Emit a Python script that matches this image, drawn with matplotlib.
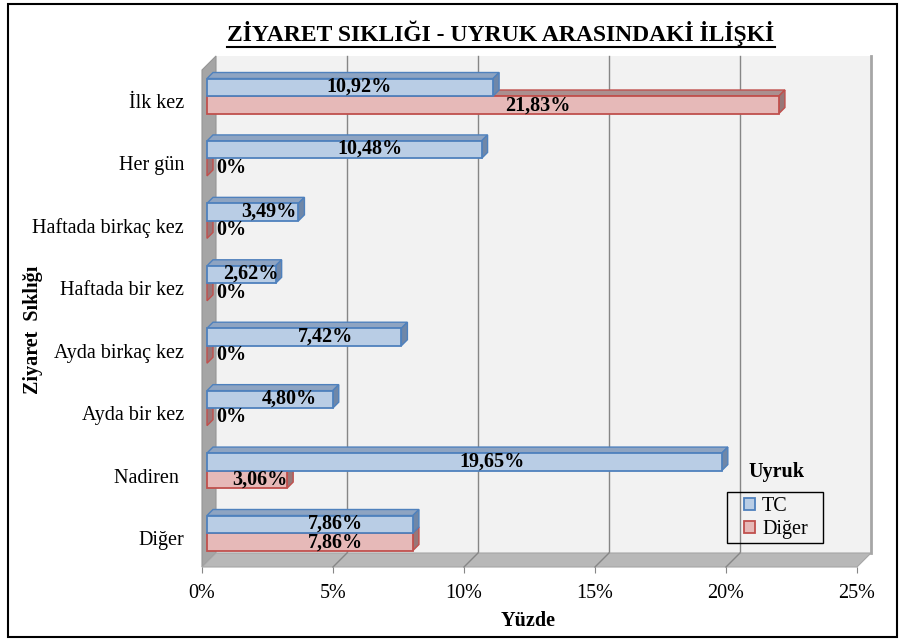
import matplotlib
matplotlib.use('Agg')
import matplotlib.pyplot as plt
from matplotlib.patches import Polygon, Patch, Rectangle
from matplotlib.lines import Line2D

plt.rcParams['font.family'] = 'Liberation Serif'

# =============================================================================
# Data
# =============================================================================

categories = ['İlk kez', 'Her gün', 'Haftada birkaç kez', 'Haftada bir kez',
              'Ayda birkaç kez', 'Ayda bir kez', 'Nadiren ', 'Diğer']
tc_values = [10.92, 10.48, 3.49, 2.62, 7.42, 4.80, 19.65, 7.86]
diger_values = [21.83, 0, 0, 0, 0, 0, 3.06, 7.86]
series_names = ['TC', 'Diğer']

# label centres (percent axis) as placed on the chart
tc_label_x = [6.0, 6.4, 2.55, 1.85, 4.7, 3.35, 11.05, 5.1]
diger_label_x = [12.8, 1.1, 1.1, 1.1, 1.1, 1.1, 2.2, 5.1]

xticks = [0, 5, 10, 15, 20, 25]

# =============================================================================
# Styles
# =============================================================================

tc_face, tc_edge, tc_top, tc_side = '#b9cde5', '#4f81bd', '#8ea4c2', '#6f87a8'
dg_face, dg_edge, dg_top, dg_side = '#e6b9b8', '#c0504d', '#ab8f8f', '#987778'
wall_color = '#f2f2f2'
side_wall = '#a5a5a5'
floor_color = '#b8b8b8'
grid_color = '#868686'

W, H = 910, 641
fig = plt.figure(figsize=(W / 100, H / 100), dpi=100)

ax_l, ax_r, ax_b, ax_t = 202, 857, 567, 70
ax = fig.add_axes([ax_l / W, 1 - ax_b / H, (ax_r - ax_l) / W, (ax_b - ax_t) / H])
ylo, yhi = -0.4645, 7.4966
ax.set_xlim(0, 25)
ax.set_ylim(ylo, yhi)

# pixel -> data units
ux = 25 / (ax_r - ax_l)
uy = (yhi - ylo) / (ax_b - ax_t)

DEPTH = 14          # wall depth in px
B0, B1 = 5, 11      # bar front / back depth in px
bar_h = 17.5 * uy


def poly(pts, fc, ec='none', lw=0, z=1):
    ax.add_patch(Polygon(pts, closed=True, facecolor=fc, edgecolor=ec,
                         linewidth=lw, zorder=z, clip_on=False))


# =============================================================================
# Walls and floor
# =============================================================================

dx, dy = DEPTH * ux, DEPTH * uy
poly([(dx, ylo + dy), (25 + dx, ylo + dy), (25 + dx, yhi + dy), (dx, yhi + dy)],
     wall_color, z=0)
poly([(0, ylo), (0, yhi), (dx, yhi + dy), (dx, ylo + dy)], side_wall,
     ec='#959595', lw=0.8, z=1)
poly([(0, ylo), (25, ylo), (25 + dx, ylo + dy), (dx, ylo + dy)], floor_color,
     ec='#a6a6a6', lw=0.8, z=1)
ax.plot([25 + dx, 25 + dx], [ylo + dy, yhi + dy], color='#a6a6a6', lw=2,
        zorder=1, clip_on=False)

for k in xticks[1:-1]:
    ax.plot([k + dx, k + dx], [ylo + dy, yhi + dy], color=grid_color, lw=1,
            zorder=0.5, clip_on=False)
    ax.plot([k, k + dx], [ylo, ylo + dy], color=grid_color, lw=1,
            zorder=1.5, clip_on=False)

# =============================================================================
# 3D bars
# =============================================================================


def bar3d(v, y0, y1, face, edge, top, side):
    f0x, f0y, f1x, f1y = B0 * ux, B0 * uy, B1 * ux, B1 * uy
    # top face
    poly([(f0x, y1 + f0y), (v + f0x, y1 + f0y), (v + f1x, y1 + f1y), (f1x, y1 + f1y)],
         top, ec=edge, lw=1, z=3)
    # right face
    poly([(v + f0x, y0 + f0y), (v + f1x, y0 + f1y), (v + f1x, y1 + f1y), (v + f0x, y1 + f0y)],
         side, ec=edge, lw=1, z=3)
    # front face
    if v > 0:
        poly([(f0x, y0 + f0y), (v + f0x, y0 + f0y), (v + f0x, y1 + f0y), (f0x, y1 + f0y)],
             face, ec=edge, lw=1.3, z=3)


for i, cat in enumerate(categories):
    yc = len(categories) - 1 - i
    bar3d(diger_values[i], yc - bar_h, yc, dg_face, dg_edge, dg_top, dg_side)
    bar3d(tc_values[i], yc, yc + bar_h, tc_face, tc_edge, tc_top, tc_side)

    lbl_kw = dict(fontsize=14.5, fontweight='bold', va='center', zorder=5)
    ax.text(tc_label_x[i], yc + bar_h / 2 + B0 * uy + 0.6 * uy,
            ('%.2f%%' % tc_values[i]).replace('.', ','), ha='center', **lbl_kw)
    dtxt = '0%' if diger_values[i] == 0 else ('%.2f%%' % diger_values[i]).replace('.', ',')
    ax.text(diger_label_x[i], yc - bar_h / 2 + B0 * uy - 0.6 * uy, dtxt,
            ha='center', **lbl_kw)

# =============================================================================
# Axes
# =============================================================================

for s in ax.spines.values():
    s.set_visible(False)
ax.set_facecolor('none')

ax.set_xticks(xticks)
ax.set_xticklabels(['%d%%' % t for t in xticks], fontsize=14.5)
ax.tick_params(axis='x', direction='out', length=4.5, color=grid_color, pad=8)

ax.set_yticks(range(len(categories)))
ax.set_yticklabels(categories[::-1], fontsize=14.5)
ax.tick_params(axis='y', length=0, pad=13)

fig.text(33 / W, 1 - 330 / H, 'Ziyaret  Sıklığı', rotation=90, fontsize=14.5,
         fontweight='bold', ha='center', va='center')
fig.text(528 / W, 1 - 621 / H, 'Yüzde', fontsize=14.5, fontweight='bold',
         ha='center', va='center')

title = fig.text(501 / W, 1 - 33 / H, 'ZİYARET SIKLIĞI - UYRUK ARASINDAKİ İLİŞKİ',
                 fontsize=17, fontweight='bold', ha='center', va='center')

# legend: entries without frame, box drawn separately
handles = [Patch(facecolor=tc_face, edgecolor=tc_edge, linewidth=1.3),
           Patch(facecolor=dg_face, edgecolor=dg_edge, linewidth=1.3)]
leg = fig.legend(handles, series_names, loc='center left',
                 bbox_to_anchor=(744 / W, 1 - 518 / H), fontsize=14.5,
                 handlelength=0.55, handleheight=0.55, handletextpad=0.35,
                 labelspacing=0.2, borderpad=0, borderaxespad=0,
                 frameon=False)
fig.add_artist(Rectangle((727 / W, 1 - 543 / H), 96 / W, 51 / H,
                         transform=fig.transFigure, fill=False,
                         edgecolor='black', linewidth=1))
fig.text(776 / W, 1 - 472 / H, 'Uyruk', fontsize=14.5, fontweight='bold',
         ha='center', va='center')

# outer frame
fig.add_artist(Rectangle((8 / W, 4 / H), 889 / W, 633 / H, transform=fig.transFigure,
                         fill=False, edgecolor='black', linewidth=1.5))

# underline the title
fig.canvas.draw()
bb = title.get_window_extent()
fig.add_artist(Line2D([bb.x0 / W, bb.x1 / W], [(bb.y0 - 1) / H, (bb.y0 - 1) / H],
                      transform=fig.transFigure, color='black', linewidth=1.5))

fig.savefig('out.png', dpi=100)
